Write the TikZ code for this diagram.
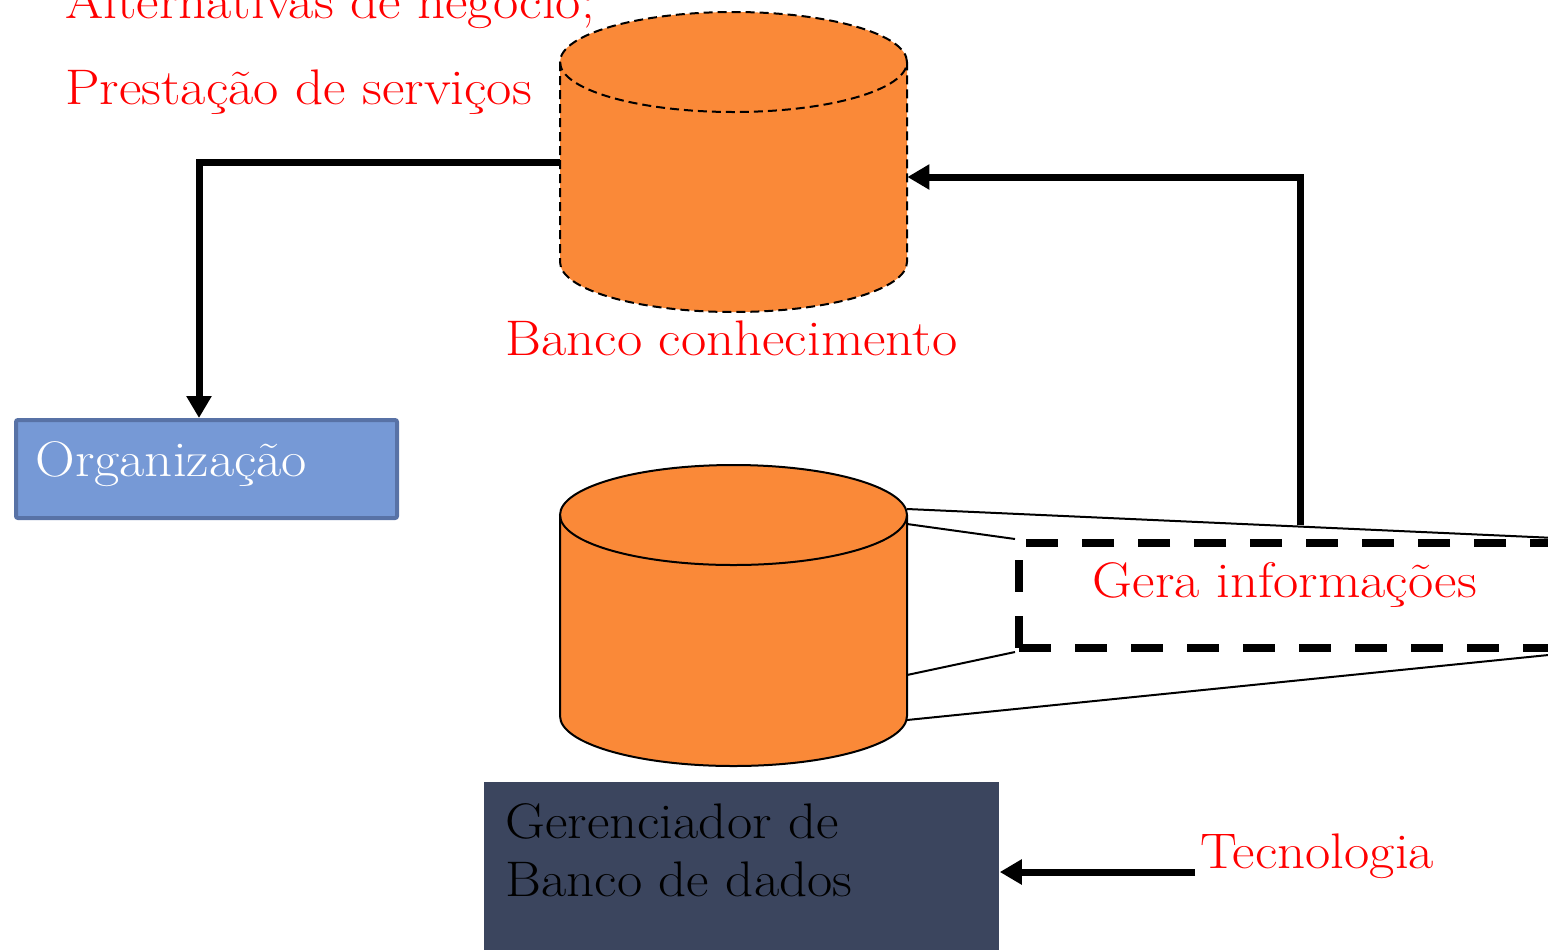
\documentclass[tikz,border=0pt]{standalone}
\usepackage{fontspec}
\setmainfont{Latin Modern Roman}[FakeStretch=1.1]
\usetikzlibrary{arrows.meta}
\definecolor{cylorange}{RGB}{250,137,56}
\definecolor{orgfill}{RGB}{118,153,214}
\definecolor{orgline}{RGB}{88,114,166}
\definecolor{gbdfill}{RGB}{59,69,94}
\begin{document}
\begin{tikzpicture}[x=0.5pt,y=0.5pt,
  bigfont/.style={font=\fontsize{25}{29}\selectfont, inner sep=0pt},
  lbl/.style={bigfont, text=red},
  conn/.style={line width=3.5pt, -{Triangle[length=11pt,width=12pt]}},
  holder/.style={draw=none, inner sep=0pt, minimum width=173.5pt},
  kbline/.style={line width=1pt, dash pattern=on 4.5pt off 2.5pt},
  dbline/.style={line width=1pt},
  zoomline/.style={line width=1pt},
  gerabox/.style={draw, line width=4pt, dash pattern=on 16pt off 12pt, inner sep=0pt,
    minimum width=277.5pt, minimum height=52.5pt},
  orgbox/.style={draw=orgline, fill=orgfill, line width=2pt, rounded corners=1pt, inner sep=0pt,
    minimum width=190.5pt, minimum height=49pt},
  gbdbox/.style={fill=gbdfill, inner sep=0pt, minimum width=257.5pt, minimum height=90pt}
]
\useasboundingbox (0,0) rectangle (1548,-949);
\clip (0,0) rectangle (1548,-949);

% invisible holders for the two cylinders
\node[holder, minimum height=150pt] (kb) at (733.5,-162) {};
\node[holder, minimum height=150.5pt] (db) at (733.5,-615.5) {};

% knowledge-base cylinder (dashed)
\fill[cylorange] (560,-62) -- (560,-262) arc[start angle=180,end angle=360,x radius=86.75pt,y radius=25pt]
  -- (907,-62) arc[start angle=0,end angle=180,x radius=86.75pt,y radius=25pt] -- cycle;
\draw[kbline] (560,-62) -- (560,-262) arc[start angle=180,end angle=360,x radius=86.75pt,y radius=25pt] -- (907,-62);
\draw[kbline] (733.5,-62) ellipse[x radius=86.75pt,y radius=25pt];

% database cylinder (solid)
\fill[cylorange] (560,-515) -- (560,-716) arc[start angle=180,end angle=360,x radius=86.75pt,y radius=25pt]
  -- (907,-515) arc[start angle=0,end angle=180,x radius=86.75pt,y radius=25pt] -- cycle;
\draw[dbline] (560,-515) -- (560,-716) arc[start angle=180,end angle=360,x radius=86.75pt,y radius=25pt] -- (907,-515);
\draw[dbline] (733.5,-515) ellipse[x radius=86.75pt,y radius=25pt];

% boxes
\node[orgbox, anchor=north west] (org) at (14,-418) {};
\node[gbdbox, anchor=north west] (gbd) at (484,-782) {};
\node[gerabox, anchor=north west] (gera) at (1015,-539) {};

% texts
\node[lbl, anchor=base west] (alt) at (65,-18) {Alternativas de negócio;};
\node[lbl, anchor=base west] (prest) at (65,-104) {Prestação de serviços};
\node[lbl, anchor=base west] (kbl) at (505,-355) {Banco conhecimento};
\node[bigfont, text=white, anchor=base west] (orgt) at (35,-476) {Organização};
\node[lbl, anchor=base] (gerat) at (1285,-597) {Gera informações};
\node[bigfont, text=black, align=left, anchor=north west] (gbdt) at (505,-803) {Gerenciador de\\Banco de dados};
\node[lbl, anchor=base west] (tec) at (1200,-868) {Tecnologia};

% zoom lines from database to "Gera informações"
\coordinate (d1) at (907,-509);
\coordinate (d2) at (907,-524);
\coordinate (d3) at (907,-675);
\coordinate (d4) at (907,-720);
\draw[zoomline] (d1) -- (gera.north east);
\draw[zoomline] (d2) -- (gera.north west);
\draw[zoomline] (d3) -- (gera.south west);
\draw[zoomline] (d4) -- (gera.south east);

% connectors
\draw[conn] (kb.west) -| ([xshift=-3.75pt]org.north);
\coordinate (tap) at (1300,-525);
\draw[conn] (tap) |- ([yshift=-7.5pt]kb.east);
\coordinate (tecstart) at (1195,-872);
\draw[conn] (tecstart) -- (gbd.east |- tecstart);
\end{tikzpicture}
\end{document}
